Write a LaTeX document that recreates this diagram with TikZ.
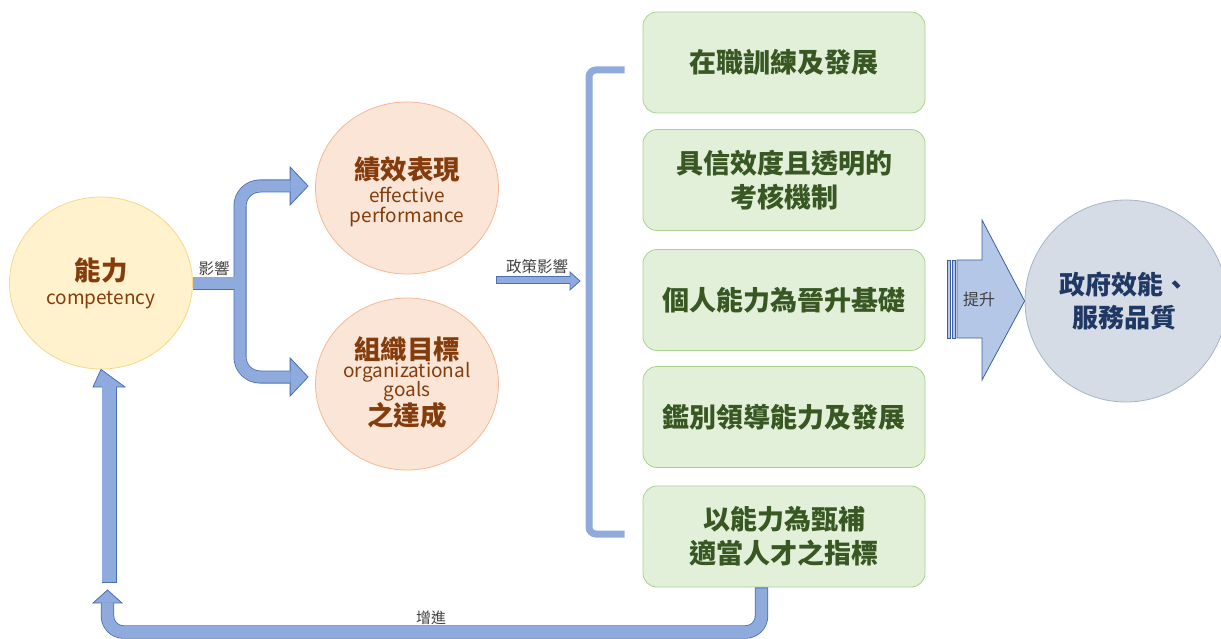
\documentclass[tikz,border=0pt]{standalone}
\usepackage{fontspec}
\setmainfont{Noto Sans CJK TC}
\usetikzlibrary{shapes.geometric,calc}
\definecolor{yfill}{HTML}{FFF2CC}
\definecolor{ydraw}{HTML}{F5D88A}
\definecolor{ofill}{HTML}{FBE5D6}
\definecolor{odraw}{HTML}{F4B896}
\definecolor{brown}{HTML}{843C0C}
\definecolor{gfill}{HTML}{E2F0D9}
\definecolor{gdraw}{HTML}{A9D18E}
\definecolor{gtext}{HTML}{385723}
\definecolor{afill}{HTML}{8FAADC}
\definecolor{adraw}{HTML}{4A6FB5}
\definecolor{cfill}{HTML}{D6DCE5}
\definecolor{cdraw}{HTML}{A7B4C8}
\definecolor{ctext}{HTML}{1F3864}
\definecolor{bfill}{HTML}{B4C7E7}
\definecolor{bdraw}{HTML}{3E5F9E}
\definecolor{lbl}{HTML}{404040}
\begin{document}
\begin{tikzpicture}[x=1pt,y=-1pt,
  yel/.style={ellipse,draw=ydraw,fill=yfill,line width=0.8pt,minimum width=183pt,minimum height=172pt,inner sep=0pt},
  org/.style={ellipse,draw=odraw,fill=ofill,line width=0.8pt,minimum width=183pt,minimum height=172pt,inner sep=0pt},
  gbox/.style={rectangle,rounded corners=14pt,draw=gdraw,fill=gfill,line width=0.8pt,minimum width=282pt,minimum height=101pt,inner sep=0pt},
  bcirc/.style={circle,draw=cdraw,fill=cfill,line width=0.8pt,minimum size=202pt,inner sep=0pt},
  big/.style={font=\bfseries\fontsize{26.5}{30}\selectfont,inner sep=0pt,align=center},
  eng/.style={font=\fontsize{19}{20}\selectfont,inner sep=0pt},
  gtxt/.style={font=\bfseries\fontsize{27}{34}\selectfont,text=gtext,align=center,inner sep=0pt},
  small/.style={font=\fontsize{15.5}{16}\selectfont,text=lbl,inner sep=0pt},
  arrb/.style={draw=adraw,line width=13pt},
  arrf/.style={draw=afill,line width=11.4pt},
  ahead/.style={fill=afill,draw=adraw,line width=0.8pt,line join=miter},
  brk/.style={draw=afill,line width=7pt,rounded corners=7pt}]
\useasboundingbox (0,0) rectangle (1221,639);

% shapes
\node[yel] (cap) at (101,283) {};
\node[org] (perf) at (407,188) {};
\node[org] (goal) at (407,384) {};
\node[gbox] (b1) at (784,62.5) {};
\node[gbox] (b2) at (784,180) {};
\node[gbox] (b3) at (784,300) {};
\node[gbox] (b4) at (784,417) {};
\node[gbox] (b5) at (784,536.5) {};
\node[bcirc] (gov) at (1126,301) {};

% texts
\node[big,text=brown] (capz) at (101,271) {能力};
\node[eng,text=brown] (cape) at (101,300) {competency};
\node[big,text=brown] (perfz) at (407,169) {績效表現};
\node[eng,text=brown] (perfe1) at (407,195) {effective};
\node[eng,text=brown] (perfe2) at (407,217) {performance};
\node[big,text=brown] (goalz1) at (407,349) {組織目標};
\node[eng,text=brown] (goale1) at (407,372) {organizational};
\node[eng,text=brown] (goale2) at (407,391) {goals};
\node[big,text=brown] (goalz2) at (407,415) {之達成};
\node[gtxt] at (b1) {在職訓練及發展};
\node[gtxt] at (b2) {具信效度且透明的\\考核機制};
\node[gtxt] at (b3) {個人能力為晉升基礎};
\node[gtxt] at (b4) {鑑別領導能力及發展};
\node[gtxt] at (b5) {以能力為甄補\\適當人才之指標};
\node[big,text=ctext,font=\bfseries\fontsize{26}{33}\selectfont] (govt) at (1124,301) {政府效能、\\服務品質};

% branching arrow
\coordinate (jx) at (240,283);
\coordinate (t1) at ($(perf.west)+(-7,-2)$);
\coordinate (t2) at ($(goal.west)+(-7,-7)$);
\draw[arrb] (cap.east) -- (jx);
\draw[arrb,rounded corners=20pt] ($(t1)+(-17,0)$) -- (t1 -| jx) -- (t2 -| jx) -- ($(t2)+(-17,0)$);
\filldraw[ahead] ($(t1)+(-18,-19)$) -- (t1) -- ($(t1)+(-18,19)$) -- cycle;
\filldraw[ahead] ($(t2)+(-18,-19)$) -- (t2) -- ($(t2)+(-18,19)$) -- cycle;
\draw[arrf] (cap.east) -- (jx);
\draw[arrf,rounded corners=20pt] ($(t1)+(-17.6,0)$) -- (t1 -| jx) -- (t2 -| jx) -- ($(t2)+(-17.6,0)$);
\node[small,anchor=south] (lab1) at (214,276) {影響};

% policy arrow
\coordinate (p0) at (496,280);
\coordinate (p1) at (580,281);
\draw[draw=adraw,line width=7.5pt] (p0) -- (571,280);
\filldraw[ahead] (570,272) -- (p1) -- (570,290) -- cycle;
\draw[draw=afill,line width=6pt] (497,280) -- (570.6,280);
\node[small,anchor=south] (lab2) at (537,274) {政策影響};

% bracket
\draw[brk] ($(b1.west)+(-18,7.5)$) -- (589,70) -- (589,534) -- ($(b5.west)+(-18,-2.5)$);

% big arrow
\filldraw[fill=bfill,draw=bdraw,line width=0.8pt,line join=miter] (957,260) -- (982,260) -- (982,220) -- (gov.west) -- (982,380) -- (982,338) -- (957,338) -- cycle;
\filldraw[fill=bfill,draw=bdraw,line width=0.6pt] (947,260) rectangle (950,338);
\filldraw[fill=bfill,draw=bdraw,line width=0.6pt] (952,260) rectangle (955,338);
\node[small,font=\fontsize{16}{16}\selectfont] (lab3) at (979,299) {提升};

% feedback arrows
\coordinate (u0) at ($(b5.south)+(-22.5,0)$);
\coordinate (u3) at (107.5,603);
\draw[arrb,line width=13.4pt,rounded corners=16pt] (u0) -- (u0 |- 0,632) -- (u3 |- 0,632) -- (u3);
\filldraw[ahead] (93,603) -- (107.5,590) -- (122,603) -- cycle;
\draw[arrf,line width=11.8pt,rounded corners=16pt] ($(u0)+(0,1)$) -- (u0 |- 0,632) -- (u3 |- 0,632) -- ($(u3)+(0,-0.6)$);
\node[small,font=\fontsize{15}{16}\selectfont,anchor=south] (lab4) at (431,625) {增進};

\coordinate (v0) at (109,583);
\coordinate (v1) at (109,387);
\draw[arrb,line width=15pt,line cap=butt] (v0) -- (v1);
\filldraw[ahead] (93,387) -- (cap.south) -- (125,387) -- cycle;
\draw[arrf,line width=13.4pt] ($(v0)+(0,-0.8)$) -- ($(v1)+(0,-0.6)$);
\end{tikzpicture}
\end{document}
